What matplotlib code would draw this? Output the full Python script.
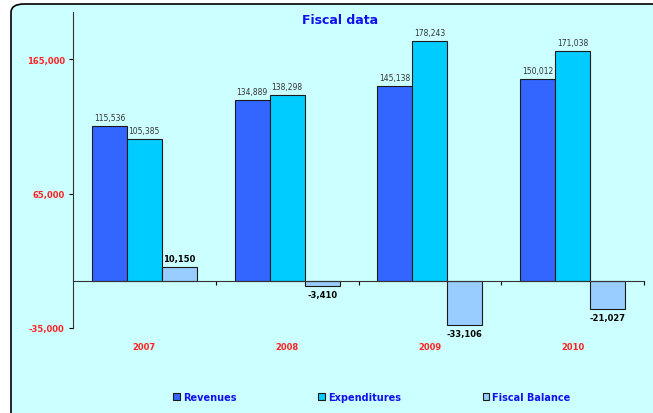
import numpy as np
import matplotlib.pyplot as plt
from matplotlib.patches import FancyBboxPatch

years = ['2007', '2008', '2009', '2010']
revenues = [115536, 134889, 145138, 150012]
expenditures = [105385, 138298, 178243, 171038]
balance = [10150, -3410, -33106, -21027]

c_rev = '#3366FF'
c_exp = '#00CCFF'
c_bal = '#99CCFF'
bg = '#CCFFFF'

fig = plt.figure(figsize=(6.53, 4.14), dpi=100)
fig.patch.set_facecolor('white')
# rounded frame of the chart area
frame = FancyBboxPatch((11 / 653, -0.05), 1.0, 1.05 - 5 / 414,
                       boxstyle='round,pad=0,rounding_size=0.02',
                       transform=fig.transFigure, facecolor=bg,
                       edgecolor='black', linewidth=1.2, zorder=-10)
fig.patches.append(frame)

ax = fig.add_axes([73 / 653, 85 / 414, (644 - 73) / 653, (414 - 85 - 13) / 414])
ax.set_facecolor('none')

x = np.arange(len(years))
w = 0.245
b1 = ax.bar(x - w, revenues, w, color=c_rev, edgecolor='#1a1a1a', linewidth=0.8, label='Revenues')
b2 = ax.bar(x, expenditures, w, color=c_exp, edgecolor='#1a1a1a', linewidth=0.8, label='Expenditures')
b3 = ax.bar(x + w, balance, w, color=c_bal, edgecolor='#1a1a1a', linewidth=0.8, label='Fiscal Balance')

for bars, vals in ((b1, revenues), (b2, expenditures)):
    for r, v in zip(bars, vals):
        ax.text(r.get_x() + r.get_width() / 2, v + 3000, f'{v:,}', ha='center', va='bottom',
                fontsize=5.5, color='#333333')
for r, v in zip(b3, balance):
    if v >= 0:
        ax.text(r.get_x() + r.get_width() / 2, v + 3000, f'{v:,}', ha='center', va='bottom',
                fontsize=6, color='black', fontweight='bold')
    else:
        ax.text(r.get_x() + r.get_width() / 2, v - 3000, f'{v:,}', ha='center', va='top',
                fontsize=6, color='black', fontweight='bold')

ax.set_xlim(-0.5, len(years) - 0.5)
ax.set_ylim(-35000, 200000)
ax.set_yticks([-35000, 65000, 165000])
ax.set_yticklabels(['-35,000', '65,000', '165,000'], color='#FF2222', fontweight='bold', fontsize=6)
ax.tick_params(axis='y', length=3, width=0.8, pad=3)

ax.spines['top'].set_visible(False)
ax.spines['right'].set_visible(False)
ax.spines['bottom'].set_position(('data', 0))
ax.spines['left'].set_color('#333333')
ax.spines['bottom'].set_color('#333333')

ax.set_xticks(np.arange(0.5, len(years) - 0.5 + 0.01, 1.0))
ax.set_xticklabels([])
ax.tick_params(axis='x', length=3, width=0.8, direction='out')
for i, yr in enumerate(years):
    ax.text(i, -35000 - 14000, yr, ha='center', va='center', color='#FF2222',
            fontweight='bold', fontsize=6, clip_on=False)

fig.text(340 / 653, 1 - 20 / 414, 'Fiscal data', ha='center', va='center',
         color='#1111EE', fontweight='bold', fontsize=9)

leg = fig.legend(handles=[b1, b2, b3], loc='center', bbox_to_anchor=(372 / 653, 1 - 398 / 414),
                 ncol=3, frameon=False, fontsize=7, handlelength=0.7, handleheight=0.7,
                 handletextpad=0.3, columnspacing=8.4)
for t in leg.get_texts():
    t.set_color('#1111EE')
    t.set_fontweight('bold')

fig.savefig('out.png', dpi=100)
